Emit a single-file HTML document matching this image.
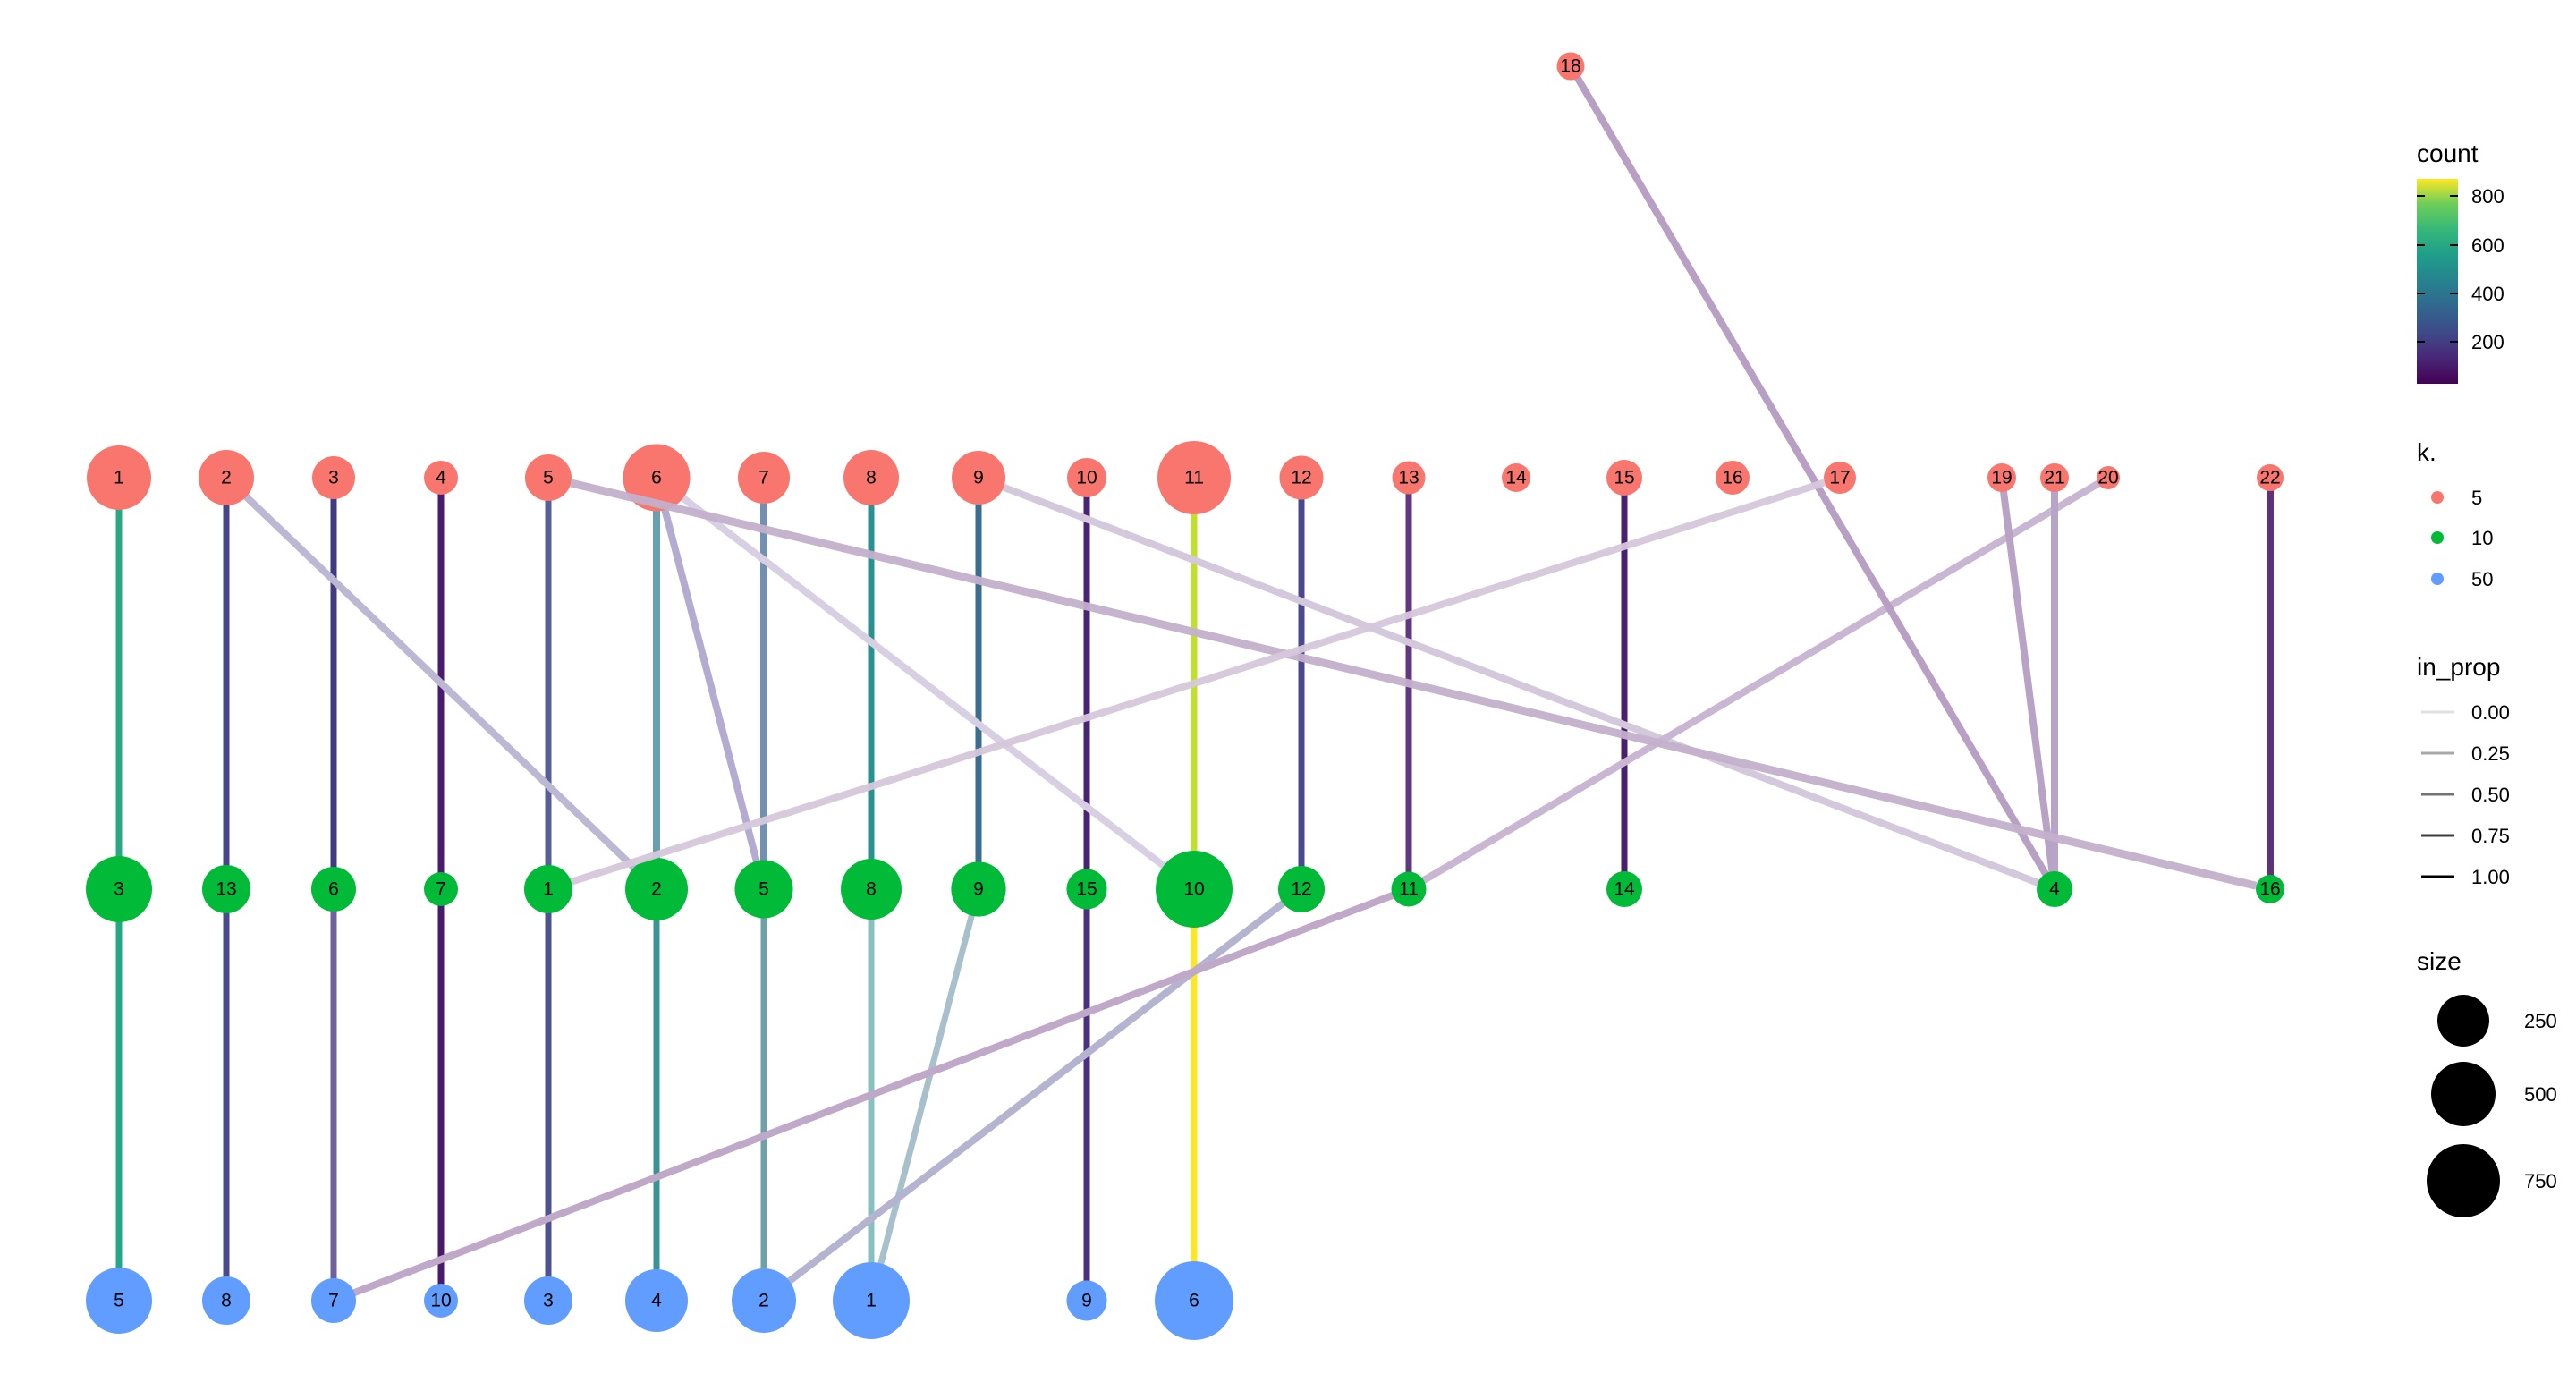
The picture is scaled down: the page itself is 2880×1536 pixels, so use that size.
<!DOCTYPE html>
<html><head><meta charset="utf-8"><style>
html,body{margin:0;padding:0;background:#fff;}
svg{display:block;}
text{font-family:"Liberation Sans",Arial,sans-serif;}
.n{font-size:21px;text-anchor:middle;dominant-baseline:central;fill:#000;}
.lg{font-size:22px;fill:#000;}
.lt{font-size:28px;fill:#000;}
</style></head><body>
<svg width="2880" height="1536" viewBox="0 0 2880 1536" xmlns="http://www.w3.org/2000/svg">
<defs>
<linearGradient id="vir" x1="0" y1="1" x2="0" y2="0">
<stop offset="0" stop-color="#440154"/><stop offset="0.13" stop-color="#482878"/><stop offset="0.25" stop-color="#3e4a89"/><stop offset="0.38" stop-color="#31688e"/><stop offset="0.5" stop-color="#26828e"/><stop offset="0.63" stop-color="#1f9e89"/><stop offset="0.75" stop-color="#35b779"/><stop offset="0.88" stop-color="#6ece58"/><stop offset="1" stop-color="#fde725"/>
</linearGradient>
</defs>
<g stroke-linecap="butt" fill="none">
<!-- top to middle verticals -->
<line x1="133" y1="534" x2="133" y2="994" stroke="#2aa884" stroke-width="7"/>
<line x1="253" y1="534" x2="253" y2="994" stroke="#46448a" stroke-width="7"/>
<line x1="373" y1="534" x2="373" y2="994" stroke="#433a84" stroke-width="7"/>
<line x1="493" y1="534" x2="493" y2="994" stroke="#4a1a6e" stroke-width="7"/>
<line x1="613" y1="534" x2="613" y2="994" stroke="#5a5e98" stroke-width="7"/>
<line x1="734" y1="534" x2="734" y2="994" stroke="#68a0b0" stroke-width="8"/>
<line x1="854" y1="534" x2="854" y2="994" stroke="#7490b0" stroke-width="8"/>
<line x1="974" y1="534" x2="974" y2="994" stroke="#2a9090" stroke-width="7"/>
<line x1="1094" y1="534" x2="1094" y2="994" stroke="#3a6e90" stroke-width="7"/>
<line x1="1215" y1="534" x2="1215" y2="994" stroke="#482475" stroke-width="7"/>
<line x1="1335" y1="534" x2="1335" y2="994" stroke="#c0e030" stroke-width="7"/>
<line x1="1455" y1="534" x2="1455" y2="994" stroke="#4a4890" stroke-width="7"/>
<line x1="1575" y1="534" x2="1575" y2="994" stroke="#603880" stroke-width="7"/>
<line x1="1816" y1="534" x2="1816" y2="994" stroke="#4a1f6e" stroke-width="7"/>
<line x1="2538" y1="534" x2="2538" y2="994" stroke="#5e3378" stroke-width="8"/>
<!-- middle to bottom verticals -->
<line x1="133" y1="994" x2="133" y2="1454" stroke="#22a884" stroke-width="7"/>
<line x1="253" y1="994" x2="253" y2="1454" stroke="#4a4a90" stroke-width="7"/>
<line x1="373" y1="994" x2="373" y2="1454" stroke="#7060a0" stroke-width="7"/>
<line x1="493" y1="994" x2="493" y2="1454" stroke="#481a6c" stroke-width="7"/>
<line x1="613" y1="994" x2="613" y2="1454" stroke="#4e5290" stroke-width="7"/>
<line x1="734" y1="994" x2="734" y2="1454" stroke="#3a9494" stroke-width="7"/>
<line x1="854" y1="994" x2="854" y2="1454" stroke="#70a0a8" stroke-width="7"/>
<line x1="974" y1="994" x2="974" y2="1454" stroke="#88c0c0" stroke-width="7"/>
<line x1="1215" y1="994" x2="1215" y2="1454" stroke="#4a3080" stroke-width="7"/>
<line x1="1335" y1="994" x2="1335" y2="1454" stroke="#fde725" stroke-width="7"/>
<!-- cross edges -->
<line x1="253" y1="534" x2="734" y2="994" stroke="#bcb8d4" stroke-width="8"/>
<line x1="734" y1="534" x2="854" y2="994" stroke="#b4acd0" stroke-width="8"/>
<line x1="734" y1="534" x2="1335" y2="994" stroke="#d8d0e2" stroke-width="8"/>
<line x1="1094" y1="534" x2="2297" y2="994" stroke="#d4c8dc" stroke-width="8"/>
<line x1="2357" y1="534" x2="1575" y2="994" stroke="#c9b6d2" stroke-width="8"/>
<line x1="1756" y1="74" x2="2297" y2="994" stroke="#b8a0c4" stroke-width="8"/>
<line x1="2238" y1="534" x2="2297" y2="994" stroke="#b8a2c6" stroke-width="8"/>
<line x1="2297" y1="534" x2="2297" y2="994" stroke="#b8a4c8" stroke-width="8"/>
<line x1="1094" y1="994" x2="974" y2="1454" stroke="#a8c0cc" stroke-width="7"/>
<line x1="1455" y1="994" x2="854" y2="1454" stroke="#b4b4d0" stroke-width="8"/>
<line x1="1575" y1="994" x2="373" y2="1454" stroke="#c0a8c8" stroke-width="8"/>
</g>
<!-- red nodes -->
<g fill="#F8766D">
<circle cx="133" cy="534" r="36"/><circle cx="253" cy="534" r="31"/><circle cx="373" cy="534" r="24"/><circle cx="493" cy="534" r="19"/><circle cx="613" cy="534" r="26"/><circle cx="734" cy="534" r="37.5"/><circle cx="854" cy="534" r="29"/><circle cx="974" cy="534" r="31"/><circle cx="1094" cy="534" r="30"/><circle cx="1215" cy="534" r="22"/><circle cx="1335" cy="534" r="41"/><circle cx="1455" cy="534" r="24.5"/><circle cx="1575" cy="534" r="18.5"/><circle cx="1695" cy="534" r="16"/><circle cx="1816" cy="534" r="20"/><circle cx="1937" cy="534" r="19"/><circle cx="2057" cy="534" r="18"/><circle cx="1756" cy="74" r="15.5"/><circle cx="2238" cy="534" r="16"/><circle cx="2297" cy="534" r="16"/><circle cx="2357" cy="534" r="13"/><circle cx="2538" cy="534" r="15"/>
</g>
<g fill="#00BA38">
<circle cx="133" cy="994" r="37"/><circle cx="253" cy="994" r="27"/><circle cx="373" cy="994" r="25"/><circle cx="493" cy="994" r="19"/><circle cx="613" cy="994" r="27"/><circle cx="734" cy="994" r="35"/><circle cx="854" cy="994" r="32.5"/><circle cx="974" cy="994" r="34"/><circle cx="1094" cy="994" r="30.6"/><circle cx="1215" cy="994" r="22.5"/><circle cx="1335" cy="994" r="43"/><circle cx="1455" cy="994" r="26"/><circle cx="1575" cy="994" r="19.5"/><circle cx="1816" cy="994" r="20"/><circle cx="2297" cy="994" r="20"/><circle cx="2538" cy="994" r="16"/>
</g>
<g fill="#619CFF">
<circle cx="133" cy="1454" r="37"/><circle cx="253" cy="1454" r="27"/><circle cx="373" cy="1454" r="25"/><circle cx="493" cy="1454" r="19"/><circle cx="613" cy="1454" r="27"/><circle cx="734" cy="1454" r="35"/><circle cx="854" cy="1454" r="36"/><circle cx="974" cy="1454" r="43"/><circle cx="1215" cy="1454" r="22.5"/><circle cx="1335" cy="1454" r="44"/>
</g>
<!-- edges drawn over nodes -->
<line x1="638.3" y1="540" x2="2522.4" y2="990.3" stroke="#c4b0cc" stroke-width="9" opacity="0.95"/>
<line x1="2039.8" y1="539.5" x2="638.7" y2="985.8" stroke="#d6c8dc" stroke-width="8" opacity="0.95"/>
<!-- labels -->
<g class="n">
<text x="133" y="534">1</text><text x="253" y="534">2</text><text x="373" y="534">3</text><text x="493" y="534">4</text><text x="613" y="534">5</text><text x="734" y="534">6</text><text x="854" y="534">7</text><text x="974" y="534">8</text><text x="1094" y="534">9</text><text x="1215" y="534">10</text><text x="1335" y="534">11</text><text x="1455" y="534">12</text><text x="1575" y="534">13</text><text x="1695" y="534">14</text><text x="1816" y="534">15</text><text x="1937" y="534">16</text><text x="2057" y="534">17</text><text x="1756" y="74">18</text><text x="2238" y="534">19</text><text x="2297" y="534">21</text><text x="2357" y="534">20</text><text x="2538" y="534">22</text>
<text x="133" y="994">3</text><text x="253" y="994">13</text><text x="373" y="994">6</text><text x="493" y="994">7</text><text x="613" y="994">1</text><text x="734" y="994">2</text><text x="854" y="994">5</text><text x="974" y="994">8</text><text x="1094" y="994">9</text><text x="1215" y="994">15</text><text x="1335" y="994">10</text><text x="1455" y="994">12</text><text x="1575" y="994">11</text><text x="1816" y="994">14</text><text x="2297" y="994">4</text><text x="2538" y="994">16</text>
<text x="133" y="1454">5</text><text x="253" y="1454">8</text><text x="373" y="1454">7</text><text x="493" y="1454">10</text><text x="613" y="1454">3</text><text x="734" y="1454">4</text><text x="854" y="1454">2</text><text x="974" y="1454">1</text><text x="1215" y="1454">9</text><text x="1335" y="1454">6</text>
</g>
<!-- legend -->
<text class="lt" x="2702" y="181">count</text>
<rect x="2702" y="200" width="46" height="229" fill="url(#vir)"/>
<g stroke="#000" stroke-width="2">
<line x1="2702" y1="219" x2="2711" y2="219"/><line x1="2739" y1="219" x2="2748" y2="219"/>
<line x1="2702" y1="274" x2="2711" y2="274"/><line x1="2739" y1="274" x2="2748" y2="274"/>
<line x1="2702" y1="328" x2="2711" y2="328"/><line x1="2739" y1="328" x2="2748" y2="328"/>
<line x1="2702" y1="382" x2="2711" y2="382"/><line x1="2739" y1="382" x2="2748" y2="382"/>
</g>
<g class="lg">
<text x="2763" y="227">800</text><text x="2763" y="282">600</text><text x="2763" y="336">400</text><text x="2763" y="390">200</text>
</g>
<text class="lt" x="2702" y="515">k.</text>
<circle cx="2725" cy="556" r="7" fill="#F8766D"/><circle cx="2725" cy="601" r="7" fill="#00BA38"/><circle cx="2725" cy="647" r="7" fill="#619CFF"/>
<g class="lg"><text x="2763" y="564">5</text><text x="2763" y="609">10</text><text x="2763" y="655">50</text></g>
<text class="lt" x="2702" y="755">in_prop</text>
<g stroke-width="3">
<line x1="2707" y1="796" x2="2744" y2="796" stroke="#e0e0e0"/>
<line x1="2707" y1="842" x2="2744" y2="842" stroke="#a8a8a8"/>
<line x1="2707" y1="888" x2="2744" y2="888" stroke="#737373"/>
<line x1="2707" y1="934" x2="2744" y2="934" stroke="#3c3c3c"/>
<line x1="2707" y1="980" x2="2744" y2="980" stroke="#000"/>
</g>
<g class="lg"><text x="2763" y="804">0.00</text><text x="2763" y="850">0.25</text><text x="2763" y="896">0.50</text><text x="2763" y="942">0.75</text><text x="2763" y="988">1.00</text></g>
<text class="lt" x="2702" y="1084">size</text>
<circle cx="2754" cy="1141" r="29" fill="#000"/><circle cx="2754" cy="1223" r="36" fill="#000"/><circle cx="2754" cy="1320" r="41" fill="#000"/>
<g class="lg"><text x="2822" y="1149">250</text><text x="2822" y="1231">500</text><text x="2822" y="1328">750</text></g>
</svg>
</body></html>
